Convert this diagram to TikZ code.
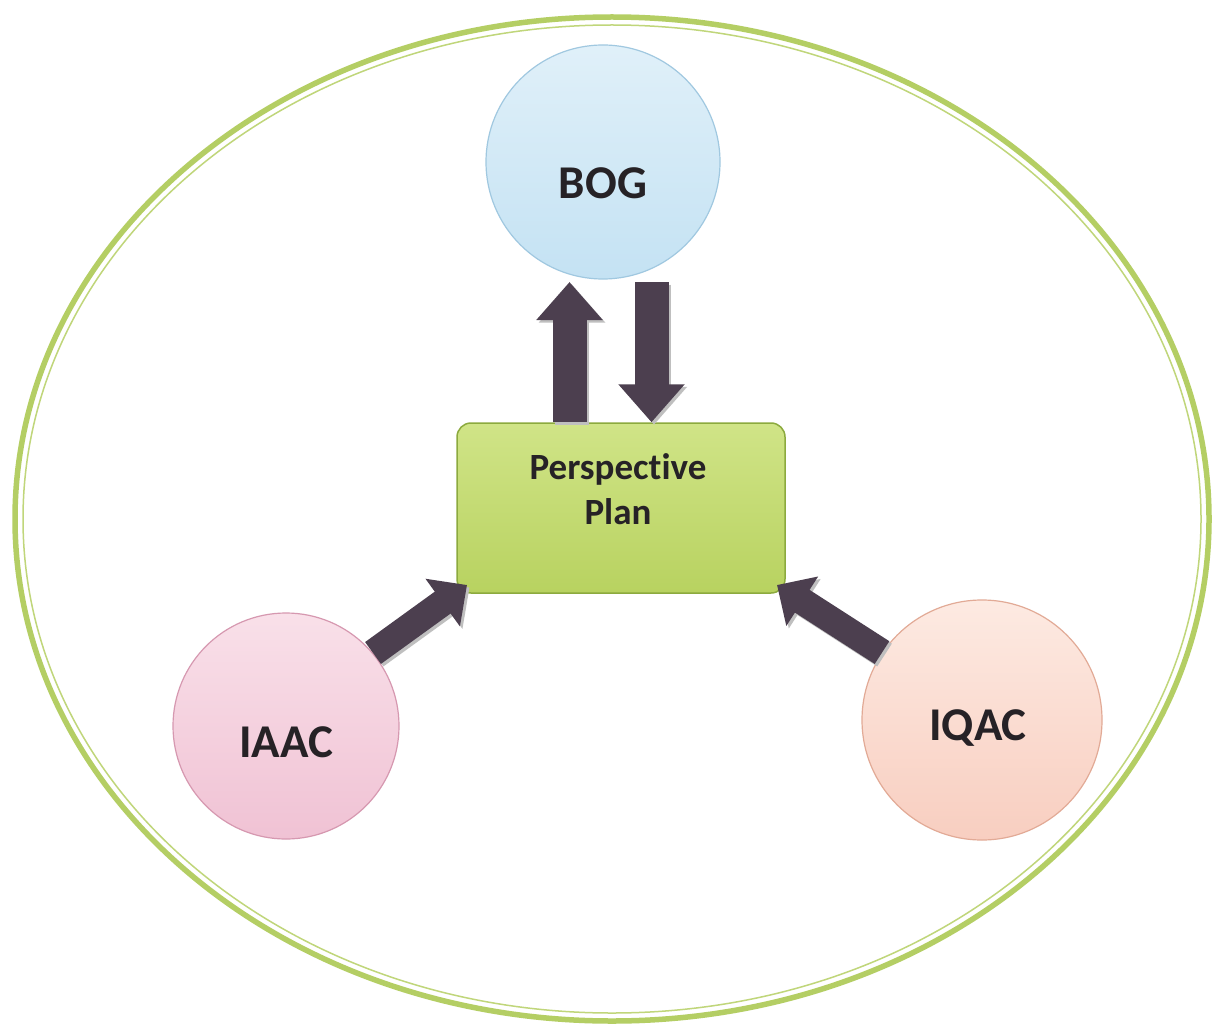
\documentclass[tikz,border=0pt]{standalone}
\usepackage{fontspec}
\setmainfont[Ligatures=NoCommon]{Carlito}
\usetikzlibrary{arrows.meta}
\definecolor{ringgreen}{RGB}{180,206,100}
\definecolor{ringinner}{RGB}{192,214,122}
\definecolor{arrowfill}{RGB}{76,63,79}
\definecolor{txt}{RGB}{38,34,38}
\definecolor{bogtop}{RGB}{224,240,249}
\definecolor{bogbot}{RGB}{196,226,243}
\definecolor{bogline}{RGB}{160,200,224}
\definecolor{iaactop}{RGB}{249,224,233}
\definecolor{iaacbot}{RGB}{240,194,212}
\definecolor{iaacline}{RGB}{214,152,176}
\definecolor{iqactop}{RGB}{253,234,226}
\definecolor{iqacbot}{RGB}{248,206,192}
\definecolor{iqacline}{RGB}{226,170,150}
\definecolor{boxtop}{RGB}{208,228,135}
\definecolor{boxbot}{RGB}{184,210,96}
\definecolor{boxline}{RGB}{140,170,62}
\tikzset{
  ballnode/.style={circle, inner sep=0pt, line width=1.2pt},
  labeltext/.style={font=\fontsize{47}{50}\selectfont\bfseries, text=txt, inner sep=0pt},
  vertarrow/.style={arrowfill, line width=34pt, -{Triangle[length=38pt,width=64pt]}},
  diagarrow/.style={arrowfill, line width=27pt, -{Triangle[length=30pt,width=57pt]}},
  shadowarrowv/.style={black!25, line width=34pt, -{Triangle[length=38pt,width=64pt]}},
  shadowarrowd/.style={black!25, line width=27pt, -{Triangle[length=30pt,width=57pt]}},
}
\begin{document}
\begin{tikzpicture}[x=1pt,y=-1pt]
\useasboundingbox (0,0) rectangle (1214,1032);
\fill[white] (0,0) rectangle (1214,1032);
% outer ring
\draw[ringgreen, line width=5.5pt] (612,519) ellipse [x radius=597, y radius=502];
\draw[ringinner, line width=1.5pt] (612,519) ellipse [x radius=589, y radius=494];
% circles
\node[ballnode, minimum size=234pt, draw=bogline, top color=bogtop, bottom color=bogbot] (bog) at (603,162) {};
\node[ballnode, minimum size=226pt, draw=iaacline, top color=iaactop, bottom color=iaacbot] (iaac) at (286,726) {};
\node[ballnode, minimum size=240pt, draw=iqacline, top color=iqactop, bottom color=iqacbot] (iqac) at (982,720) {};
\node[labeltext] (bogt) at ([yshift=-21pt]bog.center) {BOG};
\node[labeltext] (iaact) at ([yshift=-16pt]iaac.center) {IAAC};
\node[labeltext] (iqact) at ([xshift=-4pt,yshift=-8pt]iqac.center) {IQAC};
% central box
\node[draw=boxline, line width=1.5pt, rounded corners=14pt, top color=boxtop, bottom color=boxbot,
      minimum width=328pt, minimum height=170pt, inner sep=0pt] (plan) at (621,508) {};
\node[font=\fontsize{37}{45}\selectfont\bfseries, text=txt, align=center, inner sep=0pt] (plant) at (618,489) {Perspective\\Plan};
% arrow end points
\coordinate (upT) at (569.5,282);
\coordinate (dnS) at (651.5,282);
\coordinate (tipA) at (467,585);
\coordinate (tipQ) at (777,585);
% shadows
\begin{scope}[transform canvas={shift={(2.5pt,-2.5pt)}}]
\draw[shadowarrowv] (plan.north -| upT) -- (upT);
\draw[shadowarrowv] (dnS) -- (dnS |- plan.north);
\draw[shadowarrowd] (iaac.40) -- (tipA);
\draw[shadowarrowd] (iqac.146) -- (tipQ);
\end{scope}
% arrows
\draw[vertarrow] (plan.north -| upT) -- (upT);
\draw[vertarrow] (dnS) -- (dnS |- plan.north);
\draw[diagarrow] (iaac.40) -- (tipA);
\draw[diagarrow] (iqac.146) -- (tipQ);
\end{tikzpicture}
\end{document}
